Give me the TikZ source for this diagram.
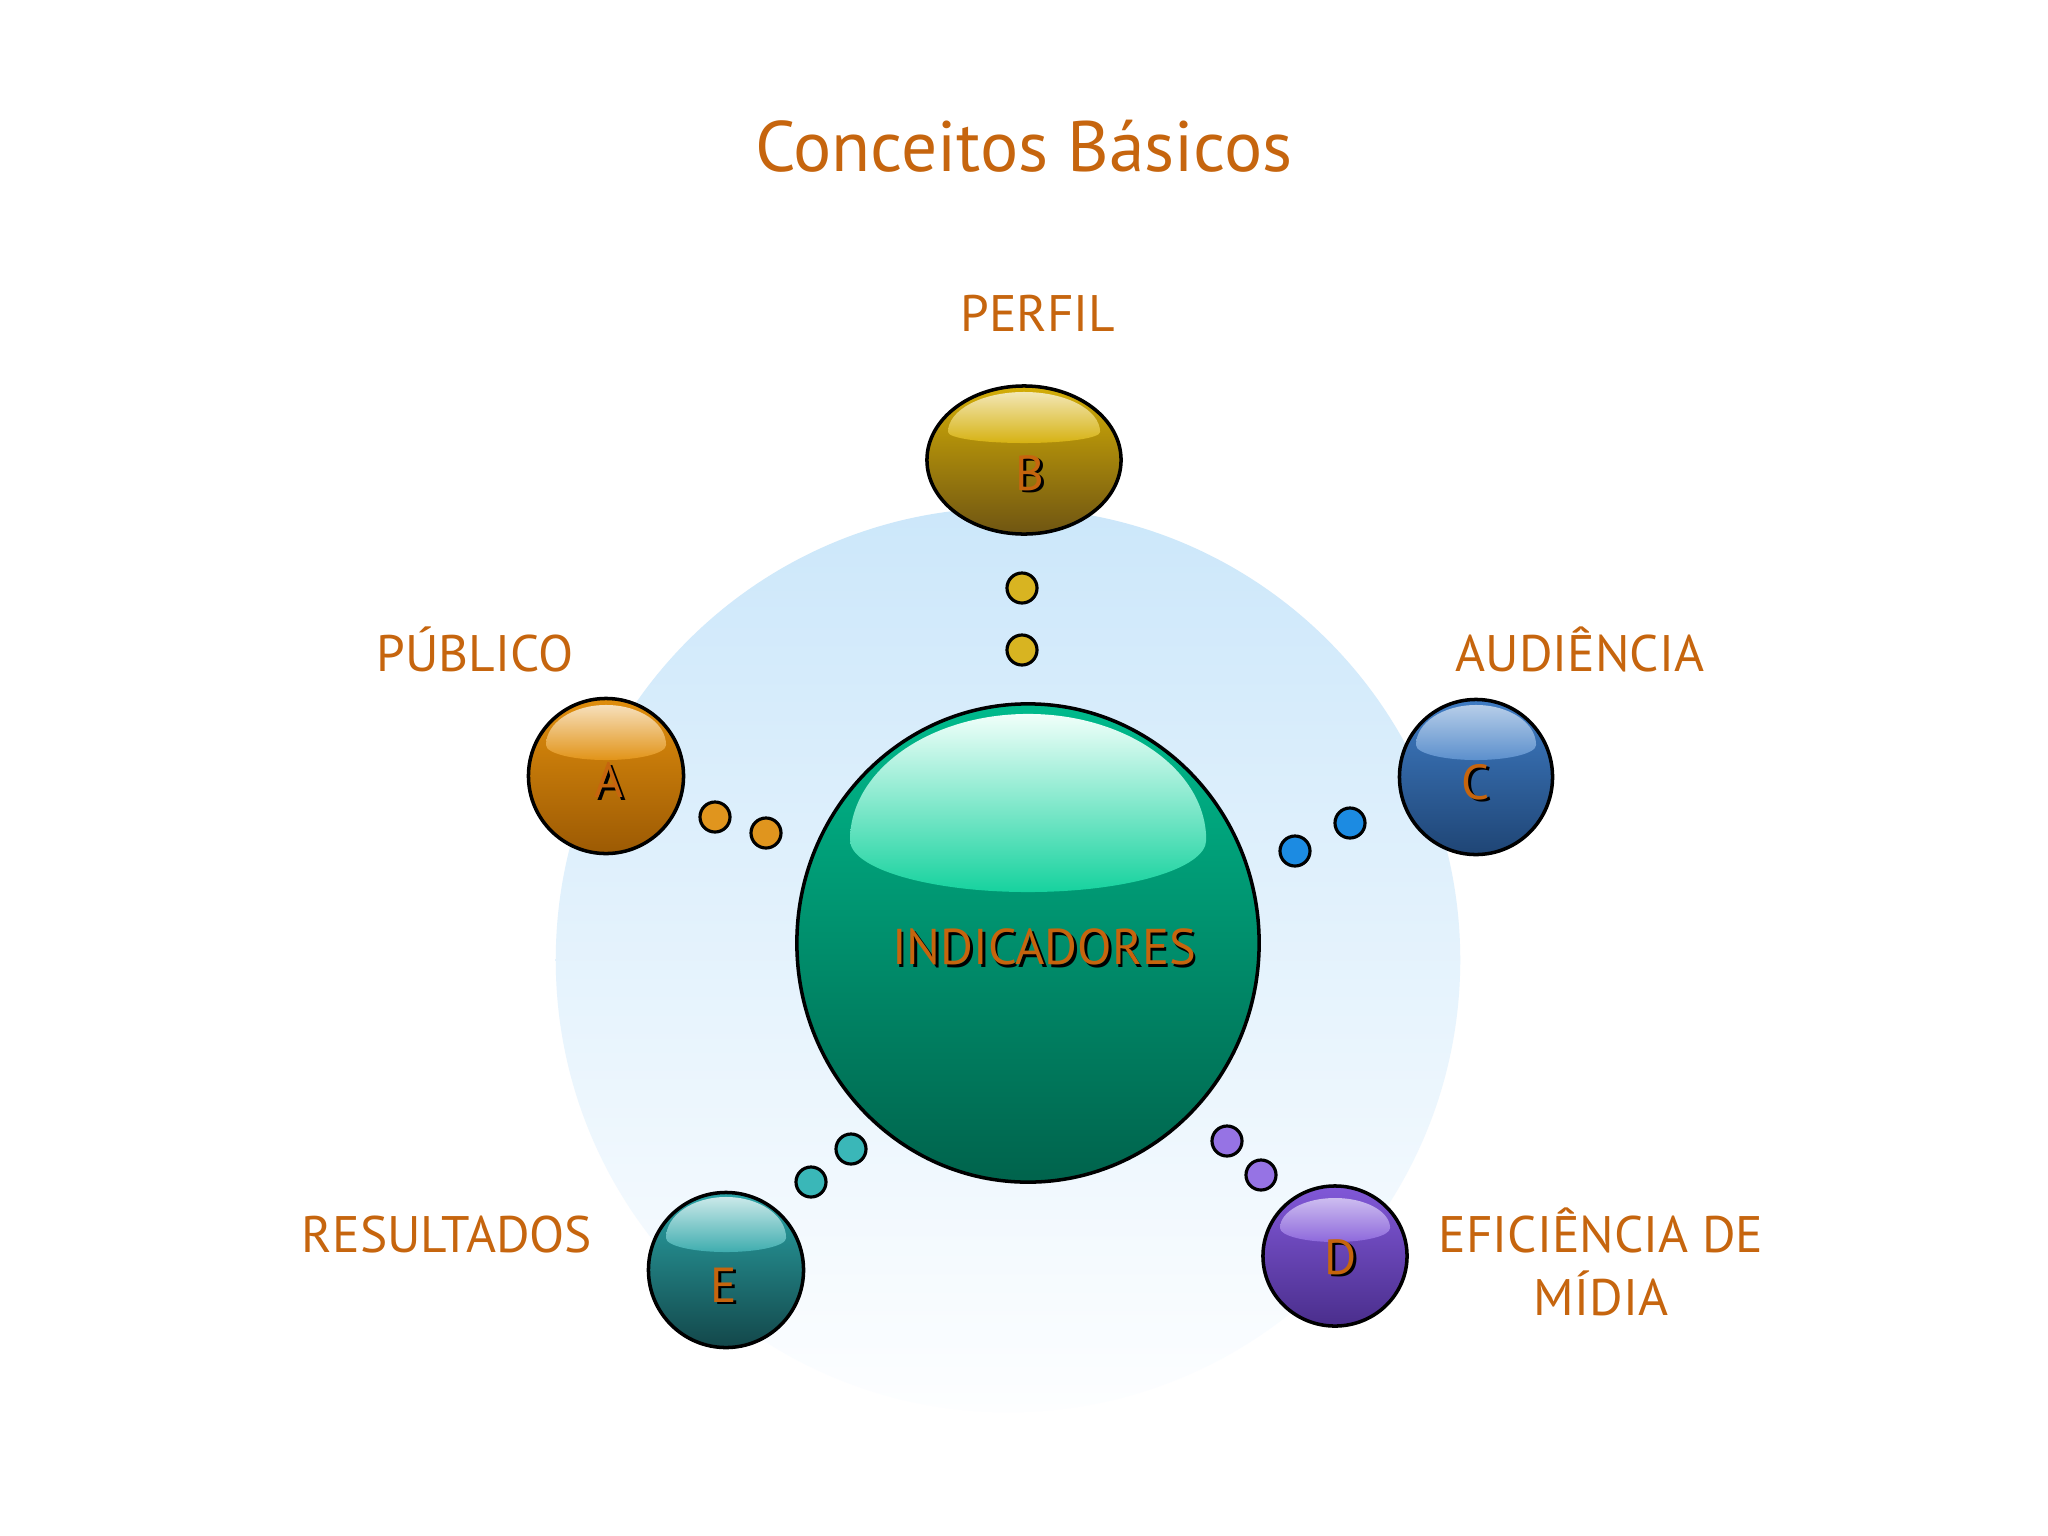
\documentclass[tikz,border=0pt]{standalone}
\usepackage{fontspec}
\setmainfont{PT Sans}
\usetikzlibrary{shapes.geometric}
\definecolor{lab}{HTML}{C6650E}
\definecolor{bgtop}{HTML}{CCE7FA}
\definecolor{bgbot}{HTML}{FDFEFF}
\definecolor{gtop}{HTML}{00BA8C}
\definecolor{gbot}{HTML}{00634C}
\definecolor{ghl}{HTML}{F0FFFA}
\definecolor{ghlb}{HTML}{16D29E}
\definecolor{atop}{HTML}{E08E0C}
\definecolor{abot}{HTML}{9C5A04}
\definecolor{btop}{HTML}{D4AE06}
\definecolor{bbot}{HTML}{6F5512}
\definecolor{ctop}{HTML}{3F7CC4}
\definecolor{cbot}{HTML}{1F4575}
\definecolor{dtop}{HTML}{8158D8}
\definecolor{dbot}{HTML}{4A2E8C}
\definecolor{etop}{HTML}{2AA4A6}
\definecolor{ebot}{HTML}{13474A}
\definecolor{adot}{HTML}{E0951E}
\definecolor{bdot}{HTML}{D8B421}
\definecolor{cdot}{HTML}{1C8BE2}
\definecolor{ddot}{HTML}{9673E4}
\definecolor{edot}{HTML}{3AB7B8}
\tikzset{
  ball/.style={ellipse, draw=black, line width=1pt, inner sep=0pt},
  dot/.style={circle, draw=black, line width=0.9pt, minimum size=0.3cm, inner sep=0pt},
  lbl/.style={text=lab, font=\fontsize{14.6}{17.9}\selectfont, align=center, inner sep=0pt},
  shad/.style={text=black, inner sep=0pt},
  fore/.style={text=lab, inner sep=0pt},
}
\newcommand{\shadowtext}[5]{% name, x, y, size, text
  \node[shad, font=\fontsize{#4}{#4}\selectfont] (#1s) at (#2+2.5,#3+2.5) {#5};
  \node[fore, font=\fontsize{#4}{#4}\selectfont] (#1) at (#2,#3) {#5};
}
% dome highlight: x, y (widest line), rx, ry top, ry bottom (cm), top colour, bottom colour
\newcommand{\dome}[7]{%
  \shade[top color=#6, bottom color=#7]
    (#1-#3*100,#2) arc [start angle=180, end angle=0, x radius=#3 cm, y radius=#4 cm]
    arc [start angle=0, end angle=-180, x radius=#3 cm, y radius=#5 cm] -- cycle;
}
\begin{document}
\begin{tikzpicture}[x=0.01cm,y=-0.01cm]
\useasboundingbox (0,0) rectangle (2048,1536);
\fill[white] (0,0) rectangle (2048,1536);
% background disc
\shade[top color=bgtop, bottom color=bgbot] (1008,960) circle [radius=4.52cm];
% title
\node[text=lab, font=\fontsize{20.3}{24}\selectfont, inner sep=0pt] (title) at (1024,146) {Conceitos Básicos};

% main sphere
\node[ball, minimum width=4.62cm, minimum height=4.78cm, top color=gtop, bottom color=gbot] (main) at (1028,943) {};
\dome{1028}{840}{1.78}{1.26}{0.52}{ghl}{ghlb}
\shadowtext{mtext}{1044}{947}{14.3}{INDICADORES}

% A
\node[ball, minimum width=1.55cm, minimum height=1.55cm, top color=atop, bottom color=abot] (A) at (606,776) {};
\dome{606}{745}{0.60}{0.40}{0.15}{white!72!atop}{atop!95!white}
\shadowtext{At}{609}{780}{14}{A}
\node[dot, fill=adot] (a1) at (715,817) {};
\node[dot, fill=adot] (a2) at (766,833) {};

% B
\node[ball, minimum width=1.94cm, minimum height=1.48cm, top color=btop, bottom color=bbot] (B) at (1024,460) {};
\dome{1024}{432}{0.76}{0.40}{0.11}{white!70!btop}{btop!95!white}
\shadowtext{Bt}{1030}{473}{14}{B}
\node[dot, fill=bdot] (b1) at (1022,588) {};
\node[dot, fill=bdot] (b2) at (1022,650) {};

% C
\node[ball, minimum width=1.53cm, minimum height=1.55cm, top color=ctop, bottom color=cbot] (C) at (1476,777) {};
\dome{1476}{745}{0.60}{0.40}{0.15}{white!62!ctop}{ctop!85!white}
\shadowtext{Ct}{1476}{782}{14}{C}
\node[dot, fill=cdot] (c1) at (1350,823) {};
\node[dot, fill=cdot] (c2) at (1295,851) {};

% D
\node[ball, minimum width=1.44cm, minimum height=1.40cm, top color=dtop, bottom color=dbot] (D) at (1335,1256) {};
\dome{1335}{1228}{0.55}{0.30}{0.14}{white!60!dtop}{dtop!90!white}
\shadowtext{Dt}{1341}{1257}{14}{D}
\node[dot, fill=ddot] (d1) at (1227,1141) {};
\node[dot, fill=ddot] (d2) at (1261,1175) {};

% E
\node[ball, minimum width=1.55cm, minimum height=1.55cm, top color=etop, bottom color=ebot] (E) at (726,1270) {};
\dome{726}{1238}{0.60}{0.41}{0.14}{white!75!etop}{etop!90!white}
\shadowtext{Et}{724}{1285}{14}{E}
\node[dot, fill=edot] (e1) at (851,1149) {};
\node[dot, fill=edot] (e2) at (811,1182) {};

% labels
\node[lbl] (perfil) at (1038,313) {PERFIL};
\node[lbl] (publico) at (475,649) {PÚBLICO};
\node[lbl] (audiencia) at (1580,649) {AUDIÊNCIA};
\node[lbl] (resultados) at (447,1235) {RESULTADOS};
\node[lbl] (eficiencia) at (1601,1262) {EFICIÊNCIA DE\\MÍDIA};
\end{tikzpicture}
\end{document}
